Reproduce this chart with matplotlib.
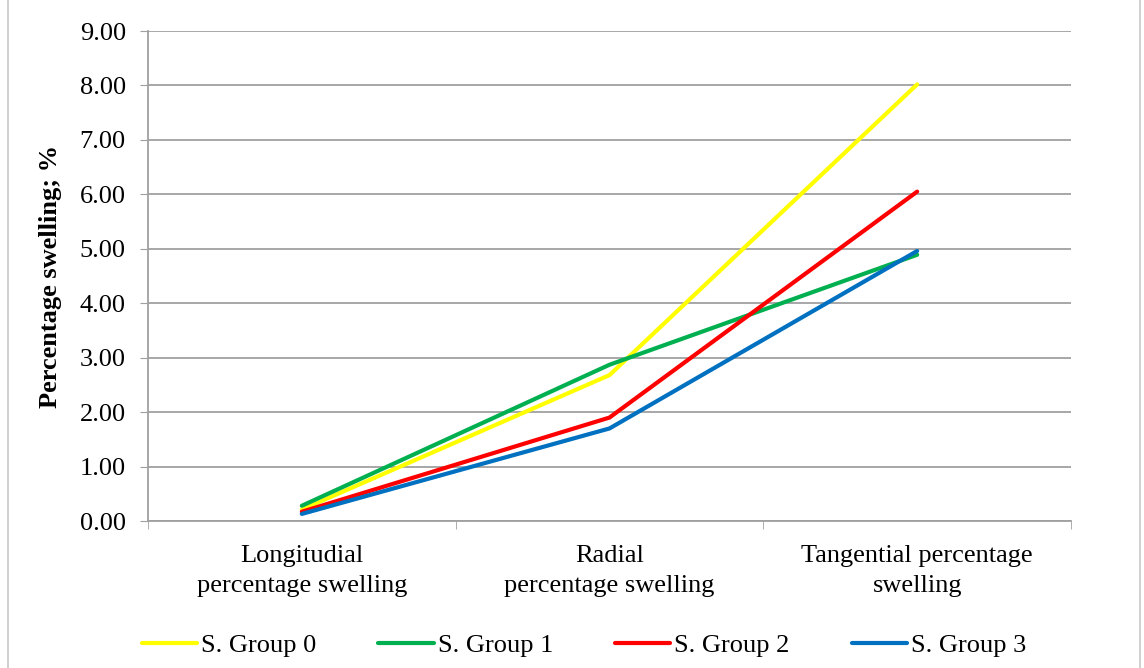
import matplotlib
matplotlib.use("Agg")
from matplotlib import pyplot as plt
from matplotlib.patches import Rectangle

# data
categories = ["Longitudial\npercentage swelling",
              "Radial\npercentage swelling",
              "Tangential percentage\nswelling"]
group0 = [0.21, 2.68, 8.02]
group1 = [0.28, 2.87, 4.89]
group2 = [0.17, 1.90, 6.05]
group3 = [0.13, 1.70, 4.96]
series_names = ["S. Group 0", "S. Group 1", "S. Group 2", "S. Group 3"]
series_colors = ["#FFFF00", "#00B050", "#FF0000", "#0070C0"]
yticks = [0, 1, 2, 3, 4, 5, 6, 7, 8, 9]

plt.rcParams['font.family'] = ['Liberation Serif', 'DejaVu Serif']
fs = 19
grey = "#A0A0A0"

fig = plt.figure(figsize=(11.44, 6.68), dpi=100)
fig.patches.append(Rectangle((8/1144, -0.01), 1132/1144, 1.02, transform=fig.transFigure,
                             fill=False, edgecolor="#C8C8C8", linewidth=1.2))
ax = fig.add_axes([148/1144, 1 - 521/668, (1071 - 148)/1144, (521 - 31)/668])

x = list(range(len(categories)))
for vals, name, col in zip([group0, group1, group2, group3], series_names, series_colors):
    ax.plot(x, vals, color=col, linewidth=3, label=name, solid_capstyle="round")

ax.set_xlim(-0.5, 2.5)
ax.set_ylim(0, 9)
ax.set_yticks(yticks)
ax.set_yticklabels(["%.2f" % v for v in yticks], fontsize=fs)
ax.set_xticks(x)
ax.set_xticklabels(categories, fontsize=fs, linespacing=1.5)
ax.tick_params(axis="x", which="major", length=0, pad=17)
ax.set_xticks([-0.5, 0.5, 1.5, 2.5], minor=True)
ax.tick_params(axis="x", which="minor", length=6, color=grey, direction="out")
ax.tick_params(axis="y", length=6, color=grey, direction="out", pad=10)

ax.grid(axis="y", color=grey, linewidth=1.3)
ax.set_axisbelow(True)
for s in ["top", "right"]:
    ax.spines[s].set_visible(False)
for s in ["left", "bottom"]:
    ax.spines[s].set_color(grey)
    ax.spines[s].set_linewidth(1.3)

ax.set_ylabel("Percentage swelling; %", fontsize=fs, fontweight="bold", labelpad=13)

fig.legend(loc="center", bbox_to_anchor=(584/1144, 1 - 645/668), ncol=4, frameon=False,
           fontsize=fs, handlelength=2.1, handletextpad=0.15, columnspacing=2.35)

fig.savefig("out.png", dpi=100)
